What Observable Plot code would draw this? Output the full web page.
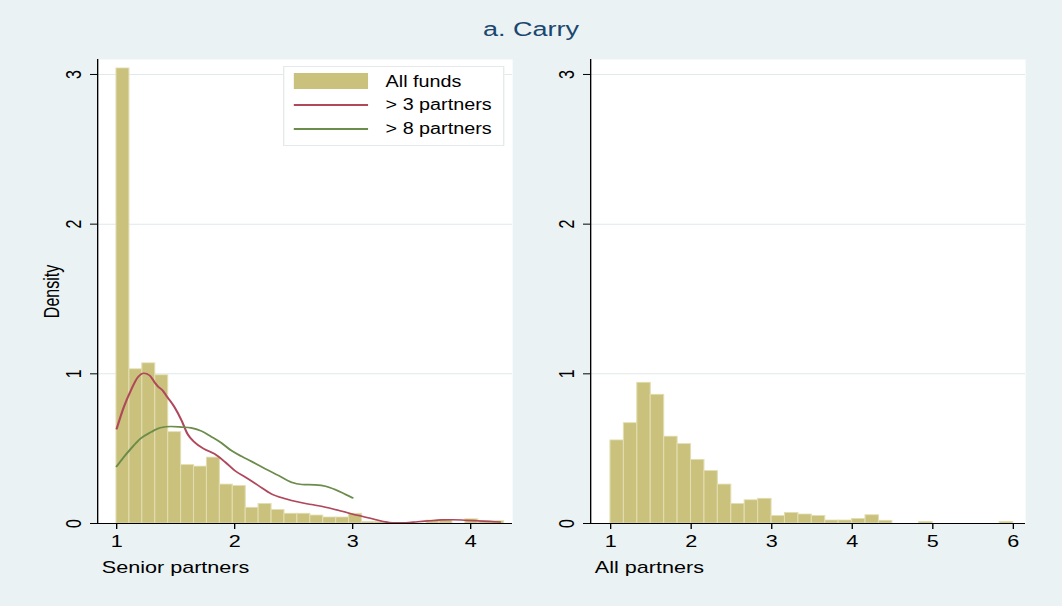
<!DOCTYPE html>
<html>
<head>
<meta charset="utf-8">
<script src="https://cdn.jsdelivr.net/npm/d3@7"></script>
<script src="https://cdn.jsdelivr.net/npm/@observablehq/plot@0.6"></script>
<style>
  body { margin: 0; background: #eaf2f3; }
  #wrap { position: relative; width: 1062px; height: 606px; background: #eaf2f3; overflow: hidden;
          font-family: "Liberation Sans", Arial, Helvetica, sans-serif; }
  #title { position: absolute; left: 0; top: 17px; width: 1062px; text-align: center; font-size: 20px;
           line-height: 24px; color: #1a476f; transform: scaleX(1.35); transform-origin: 50% 0; }
  .panel { position: absolute; top: 0; width: 531px; height: 606px; }
  #legend { position: absolute; left: 283px; top: 66px; width: 164px; height: 80px; background: #fff;
            border: 1px solid #e4eaec; box-sizing: border-box; transform: scaleX(1.35); transform-origin: 0 0; }
  #legend .sw { position: absolute; left: 6.5px; width: 55.5px; }
  #legend .tx { position: absolute; left: 74.5px; font-size: 16px; line-height: 20px; color: #000; white-space: nowrap;
                transform: scaleX(0.915); transform-origin: 0 0; }
</style>
</head>
<body>
<div id="wrap">
  <div id="left" class="panel" style="left:0"></div>
  <div id="right" class="panel" style="left:531px"></div>
  <div id="title"></div>
  <div id="legend"></div>
</div>
<script>
// ---------------- data ----------------
const chartTitle = "a. Carry";
const yLabel = "Density";
const yTicks = [0, 1, 2, 3];
const gridValues = [1, 2, 3];

// Left panel: senior partners histogram (30 bins starting at 1)
const seniorBinStart = 1;
const seniorBinWidth = 0.1095;
const seniorDensity = [3.04, 1.03, 1.07, 0.99, 0.61, 0.39, 0.38, 0.44, 0.26, 0.25,
                       0.105, 0.13, 0.09, 0.065, 0.065, 0.053, 0.04, 0.04, 0.065, 0.01,
                       0.01, 0, 0, 0, 0.02, 0.02, 0, 0.028, 0.015, 0.015];
const seniorTicks = [1, 2, 3, 4];
const seniorLabel = "Senior partners";

// Kernel density, > 3 partners
const gt3X = [1, 1.06, 1.12, 1.18, 1.23, 1.28, 1.32, 1.35, 1.39, 1.43, 1.49, 1.55, 1.60, 1.66, 1.74,
              1.83, 1.92, 2.0, 2.09, 2.2, 2.31, 2.43, 2.54, 2.65, 2.77, 2.91, 3.05, 3.15, 3.25,
              3.35, 3.45, 3.55, 3.65, 3.75, 3.85, 3.95, 4.05, 4.15, 4.25];
const gt3Y = [0.633, 0.777, 0.889, 0.978, 1.004, 0.989, 0.945, 0.915, 0.889, 0.844, 0.777, 0.688, 0.599, 0.543, 0.499,
              0.465, 0.41, 0.354, 0.31, 0.254, 0.198, 0.165, 0.143, 0.127, 0.109, 0.082, 0.053, 0.035, 0.015,
              0.004, 0.005, 0.012, 0.018, 0.024, 0.025, 0.022, 0.018, 0.014, 0.01];

// Kernel density, > 8 partners
const gt8X = [1, 1.06, 1.12, 1.2, 1.29, 1.37, 1.46, 1.55, 1.63, 1.72, 1.8, 1.89, 1.97, 2.06, 2.14,
              2.26, 2.37, 2.48, 2.57, 2.68, 2.77, 2.85, 2.94, 3.0];
const gt8Y = [0.381, 0.443, 0.499, 0.566, 0.61, 0.639, 0.648, 0.644, 0.639, 0.617, 0.581, 0.537, 0.488, 0.448, 0.416,
              0.365, 0.321, 0.276, 0.261, 0.258, 0.249, 0.227, 0.194, 0.171];

// Right panel: all partners histogram (30 bins starting at 1)
const allBinStart = 1;
const allBinWidth = 1 / 6;
const allDensity = [0.555, 0.67, 0.94, 0.86, 0.58, 0.53, 0.425, 0.35, 0.26, 0.13,
                    0.155, 0.165, 0.05, 0.07, 0.06, 0.05, 0.02, 0.02, 0.03, 0.055,
                    0.018, 0, 0, 0.01, 0, 0, 0, 0, 0, 0.01];
const allTicks = [1, 2, 3, 4, 5, 6];
const allLabel = "All partners";

const legendLabels = ["All funds", "> 3 partners", "> 8 partners"];
const colors = { bar: "#c9c17c", barEdge: "#e2ddb0", gt3: "#b0485b", gt8: "#6b8c4b", grid: "#e0e9eb" };

// ---------------- drawing ----------------
const S = 1.35;            // horizontal stretch of the reference
const REAL_W = 531, H = 606;
const W = REAL_W / S;

function toBins(start, width, dens) {
  return dens.map((d, i) => ({ x1: start + i * width, x2: start + (i + 1) * width, d }));
}
function toPts(xs, ys) { return xs.map((x, i) => ({ x, y: ys[i] })); }

function panel(el, { bins, xDomain, xTicks, xLabel, withYLabel, lines, mL, mR }) {
  const marks = [
    Plot.frame({ fill: "white", stroke: "none" }),
    Plot.gridY(gridValues, { stroke: colors.grid, strokeOpacity: 1, strokeWidth: 1 }),
    Plot.rect(bins, { x1: "x1", x2: "x2", y1: () => 0, y2: "d", fill: colors.bar, stroke: colors.barEdge, strokeWidth: 0.8 }),
    ...lines.map(l => Plot.line(l.pts, { x: "x", y: "y", stroke: l.color, strokeWidth: 1.6, curve: "monotone-x" })),
    Plot.ruleX([xDomain[0]], { stroke: "#000", strokeWidth: 1 }),
    Plot.ruleY([0], { stroke: "#000", strokeWidth: 1 }),
    Plot.axisY({ ticks: yTicks, tickSize: 5.2, tickPadding: 7, tickRotate: -90, tickFormat: d => String(d), label: null }),
    Plot.axisX({ ticks: xTicks, tickSize: 6, tickPadding: 6, tickFormat: d => String(d), label: null }),
    Plot.text([xLabel], { frameAnchor: "bottom-left", textAnchor: "start", lineAnchor: "middle", dx: 3, dy: 44, fontSize: 16 })
  ];
  if (withYLabel) {
    marks.push(Plot.text([yLabel], { frameAnchor: "left", rotate: -90, textAnchor: "middle", lineAnchor: "middle", dx: -33.5, fontSize: 16 }));
  }
  const svg = Plot.plot({
    width: W, height: H,
    marginLeft: mL, marginRight: mR, marginTop: 59, marginBottom: 83,
    x: { domain: xDomain },
    y: { domain: [0, 3.1] },
    style: { background: "transparent", color: "#000", fontSize: "16px",
             fontFamily: "'Liberation Sans', Arial, Helvetica, sans-serif", overflow: "visible" },
    marks
  });
  svg.setAttribute("width", REAL_W);
  svg.setAttribute("preserveAspectRatio", "none");
  svg.style.width = REAL_W + "px";
  svg.style.height = H + "px";
  svg.style.maxWidth = "none";
  el.appendChild(svg);
}

panel(document.getElementById("left"), {
  bins: toBins(seniorBinStart, seniorBinWidth, seniorDensity),
  xDomain: [0.839, 4.356], xTicks: seniorTicks, xLabel: seniorLabel, withYLabel: true,
  lines: [{ pts: toPts(gt3X, gt3Y), color: colors.gt3 }, { pts: toPts(gt8X, gt8Y), color: colors.gt8 }],
  mL: 97 / S, mR: (531 - 512) / S
});

panel(document.getElementById("right"), {
  bins: toBins(allBinStart, allBinWidth, allDensity),
  xDomain: [0.752, 6.153], xTicks: allTicks, xLabel: allLabel, withYLabel: false,
  lines: [],
  mL: (590 - 531) / S, mR: (1062 - 1025) / S
});

document.getElementById("title").textContent = chartTitle;

// legend
const lg = document.getElementById("legend");
const centers = [15, 38, 62];
legendLabels.forEach((lab, i) => {
  const sw = document.createElement("div");
  sw.className = "sw";
  if (i === 0) {
    sw.style.top = "6px"; sw.style.height = "16px"; sw.style.background = colors.bar;
  } else {
    sw.style.top = (centers[i] - 0.8) + "px"; sw.style.height = "1.6px";
    sw.style.background = i === 1 ? colors.gt3 : colors.gt8;
  }
  lg.appendChild(sw);
  const tx = document.createElement("div");
  tx.className = "tx";
  tx.style.top = (centers[i] - 10) + "px";
  tx.textContent = lab;
  lg.appendChild(tx);
});
</script>
</body>
</html>
